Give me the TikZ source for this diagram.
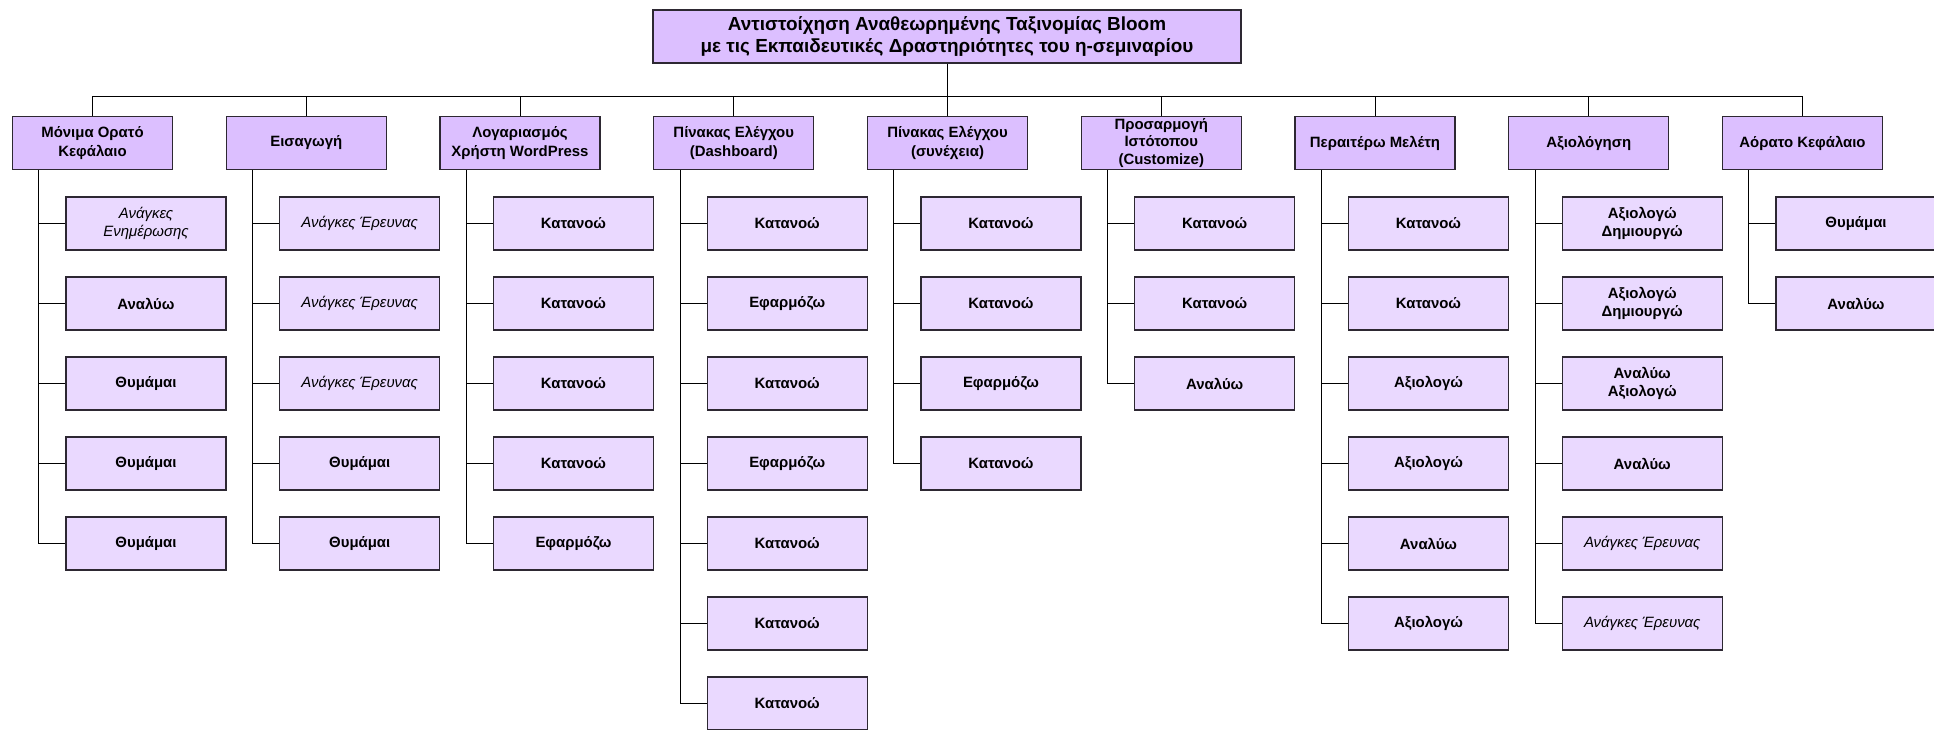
\documentclass[tikz,border=0pt]{standalone}
\usepackage{fontspec}
\setmainfont{Liberation Sans}
\definecolor{pfill}{RGB}{220,191,255}
\definecolor{cfill}{RGB}{234,217,255}
\definecolor{bord}{RGB}{45,40,50}
\newcommand\kid[4][]{%
  \node[kid,#1] (c#2x#3) at ({146+213.75*#2},{223.5+80*(#3-1)}) {#4};
  \draw[link] ([xshift=20.25pt]p#2.south west) |- (c#2x#3.west);}
\begin{document}
\begin{tikzpicture}[x=0.75pt,y=-0.75pt,
  box/.style={draw=bord,line width=1pt,inner sep=1pt,minimum width=120pt,minimum height=39.75pt,align=center,font=\fontsize{11.2}{13.6}\selectfont\bfseries},
  parent/.style={box,fill=pfill},
  kid/.style={box,fill=cfill},
  ital/.style={font=\fontsize{11.2}{13.6}\selectfont\itshape},
  link/.style={draw=black,line width=0.75pt}]
\useasboundingbox[fill=white] (0,0) rectangle (1934,729);
\node[parent,minimum width=441pt,font=\fontsize{14.2}{17}\selectfont\bfseries] (title) at (947,36.5)
  {Αντιστοίχηση Αναθεωρημένης Ταξινομίας Bloom\\με τις Εκπαιδευτικές Δραστηριότητες του η-σεμιναρίου};
\node[parent] (p0) at (92.5,143) {Μόνιμα Ορατό\\Κεφάλαιο};
\node[parent] (p1) at (306.25,143) {Εισαγωγή};
\node[parent] (p2) at (520,143) {Λογαριασμός\\Χρήστη WordPress};
\node[parent] (p3) at (733.75,143) {Πίνακας Ελέγχου\\(Dashboard)};
\node[parent] (p4) at (947.5,143) {Πίνακας Ελέγχου\\(συνέχεια)};
\node[parent,font=\fontsize{11.2}{13.2}\selectfont\bfseries] (p5) at (1161.25,143) {Προσαρμογή\\Ιστότοπου\\(Customize)};
\node[parent] (p6) at (1375,143) {Περαιτέρω Μελέτη};
\node[parent] (p7) at (1588.75,143) {Αξιολόγηση};
\node[parent] (p8) at (1802.5,143) {Αόρατο Κεφάλαιο};
\coordinate (bus) at (947,96);
\draw[link] (title.south) -- (bus);
\foreach \i in {0,...,8} \draw[link] (bus) -| (p\i.north);
\kid[ital]{0}{1}{Ανάγκες\\Ενημέρωσης}
\kid{0}{2}{Αναλύω}
\kid{0}{3}{Θυμάμαι}
\kid{0}{4}{Θυμάμαι}
\kid{0}{5}{Θυμάμαι}
\kid[ital]{1}{1}{Ανάγκες Έρευνας}
\kid[ital]{1}{2}{Ανάγκες Έρευνας}
\kid[ital]{1}{3}{Ανάγκες Έρευνας}
\kid{1}{4}{Θυμάμαι}
\kid{1}{5}{Θυμάμαι}
\kid{2}{1}{Κατανοώ}
\kid{2}{2}{Κατανοώ}
\kid{2}{3}{Κατανοώ}
\kid{2}{4}{Κατανοώ}
\kid{2}{5}{Εφαρμόζω}
\kid{3}{1}{Κατανοώ}
\kid{3}{2}{Εφαρμόζω}
\kid{3}{3}{Κατανοώ}
\kid{3}{4}{Εφαρμόζω}
\kid{3}{5}{Κατανοώ}
\kid{3}{6}{Κατανοώ}
\kid{3}{7}{Κατανοώ}
\kid{4}{1}{Κατανοώ}
\kid{4}{2}{Κατανοώ}
\kid{4}{3}{Εφαρμόζω}
\kid{4}{4}{Κατανοώ}
\kid{5}{1}{Κατανοώ}
\kid{5}{2}{Κατανοώ}
\kid{5}{3}{Αναλύω}
\kid{6}{1}{Κατανοώ}
\kid{6}{2}{Κατανοώ}
\kid{6}{3}{Αξιολογώ}
\kid{6}{4}{Αξιολογώ}
\kid{6}{5}{Αναλύω}
\kid{6}{6}{Αξιολογώ}
\kid{7}{1}{Αξιολογώ\\Δημιουργώ}
\kid{7}{2}{Αξιολογώ\\Δημιουργώ}
\kid{7}{3}{Αναλύω\\Αξιολογώ}
\kid{7}{4}{Αναλύω}
\kid[ital]{7}{5}{Ανάγκες Έρευνας}
\kid[ital]{7}{6}{Ανάγκες Έρευνας}
\kid{8}{1}{Θυμάμαι}
\kid{8}{2}{Αναλύω}
\end{tikzpicture}
\end{document}
